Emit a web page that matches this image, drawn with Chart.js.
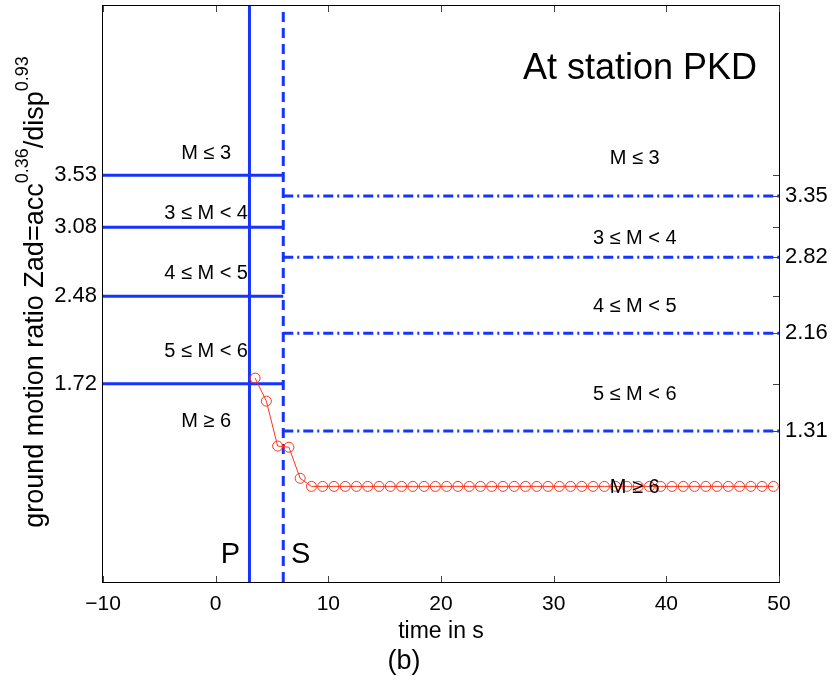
<!DOCTYPE html>
<html lang="en">
<head>
    <meta charset="UTF-8">
    <title>At station PKD</title>
    <script src="https://cdn.jsdelivr.net/npm/chart.js"></script>
    <style>
        html, body { margin: 0; padding: 0; background: #fff; }
        canvas { display: block; }
    </style>
</head>
<body>
    <canvas id="myChart" width="832" height="684"></canvas>
    <script>
        // data
        const times = [3.5, 4.5, 5.5, 6.5, 7.5, 8.5, 9.5, 10.5, 11.5, 12.5, 13.5, 14.5, 15.5, 16.5, 17.5, 18.5,
            19.5, 20.5, 21.5, 22.5, 23.5, 24.5, 25.5, 26.5, 27.5, 28.5, 29.5, 30.5, 31.5, 32.5, 33.5, 34.5,
            35.5, 36.5, 37.5, 38.5, 39.5, 40.5, 41.5, 42.5, 43.5, 44.5, 45.5, 46.5, 47.5, 48.5, 49.5];
        const zad = [1.77, 1.57, 1.18, 1.17, 0.90, 0.83, 0.83, 0.83, 0.83, 0.83, 0.83, 0.83, 0.83, 0.83, 0.83, 0.83,
            0.83, 0.83, 0.83, 0.83, 0.83, 0.83, 0.83, 0.83, 0.83, 0.83, 0.83, 0.83, 0.83, 0.83, 0.83, 0.83,
            0.83, 0.83, 0.83, 0.83, 0.83, 0.83, 0.83, 0.83, 0.83, 0.83, 0.83, 0.83, 0.83, 0.83, 0.83];
        const pThresholds = [3.53, 3.08, 2.48, 1.72];
        const sThresholds = [3.35, 2.82, 2.16, 1.31];
        const pArrival = 3;
        const sArrival = 6;
        const xRange = [-10, 50];
        const yRange = [0, 5];
        const xTicks = [-10, 0, 10, 20, 30, 40, 50];
        const magClasses = ['M \u2264 3', '3 \u2264 M < 4', '4 \u2264 M < 5', '5 \u2264 M < 6', 'M \u2265 6'];

        const FONT = '"Liberation Sans", Arial, Helvetica, sans-serif';
        const BLUE = 'rgb(22, 52, 255)';
        const RED = 'rgb(255, 52, 30)';

        const datasets = [];
        datasets.push({
            data: times.map((t, i) => ({ x: t, y: zad[i] })),
            showLine: true,
            borderColor: RED,
            borderWidth: 1,
            pointRadius: 5,
            pointBorderWidth: 1,
            pointBorderColor: RED,
            pointBackgroundColor: 'rgba(0,0,0,0)',
            order: 0
        });
        pThresholds.forEach(v => datasets.push({
            data: [{ x: xRange[0], y: v }, { x: sArrival, y: v }],
            showLine: true, borderColor: BLUE, borderWidth: 3, pointRadius: 0, order: 1
        }));
        sThresholds.forEach(v => datasets.push({
            data: [{ x: sArrival, y: v }, { x: xRange[1], y: v }],
            showLine: true, borderColor: BLUE, borderWidth: 3, borderDash: [10, 4, 2, 4], pointRadius: 0, order: 1
        }));
        datasets.push({
            data: [{ x: pArrival, y: yRange[0] }, { x: pArrival, y: yRange[1] }],
            showLine: true, borderColor: BLUE, borderWidth: 3, pointRadius: 0, order: 1
        });
        datasets.push({
            data: [{ x: sArrival, y: yRange[0] }, { x: sArrival, y: yRange[1] }],
            showLine: true, borderColor: BLUE, borderWidth: 3, borderDash: [10, 6], pointRadius: 0, order: 1
        });

        // fixed axis sizes so the plot box lands where it is in the figure
        function fixSize(prop, size) {
            return s => {
                s[prop] = size;
                s.paddingTop = 0; s.paddingBottom = 0;
                s.paddingLeft = 0; s.paddingRight = 0;
            };
        }

        const decorations = {
            id: 'decorations',
            afterDraw(chart) {
                const ctx = chart.ctx;
                const a = chart.chartArea;
                const xs = chart.scales.x, ys = chart.scales.y;
                ctx.save();

                // axes box and inward ticks
                ctx.strokeStyle = '#000';
                ctx.lineWidth = 1;
                ctx.strokeRect(a.left - 0.5, a.top - 0.5, a.right - a.left + 1, a.bottom - a.top + 1);
                ctx.strokeStyle = '#444';
                ctx.beginPath();
                xTicks.forEach(t => {
                    const px = Math.round(xs.getPixelForValue(t)) + 0.5;
                    ctx.moveTo(px, a.bottom); ctx.lineTo(px, a.bottom - 6);
                    ctx.moveTo(px, a.top); ctx.lineTo(px, a.top + 6);
                });
                pThresholds.concat(sThresholds).forEach(v => {
                    const py = Math.round(ys.getPixelForValue(v)) + 0.5;
                    ctx.moveTo(a.right, py); ctx.lineTo(a.right - 6, py);
                });
                ctx.stroke();

                ctx.fillStyle = '#000';

                // magnitude class labels
                ctx.font = '20px ' + FONT;
                ctx.textAlign = 'center';
                ctx.textBaseline = 'middle';
                const leftY = [3.72, 3.20, 2.68, 2.00, 1.39];
                const rightY = [3.68, 2.98, 2.39, 1.63, 0.82];
                magClasses.forEach((m, i) => {
                    ctx.fillText(m, xs.getPixelForValue(-0.85), ys.getPixelForValue(leftY[i]));
                    ctx.fillText(m, xs.getPixelForValue(37.2), ys.getPixelForValue(rightY[i]));
                });

                // station title
                ctx.font = '36px ' + FONT;
                ctx.textAlign = 'right';
                ctx.textBaseline = 'alphabetic';
                ctx.fillText('At station PKD', 757, 79);

                // phase markers
                ctx.font = '29px ' + FONT;
                ctx.fillText('P', 240, 563);
                ctx.textAlign = 'left';
                ctx.fillText('S', 291, 563);

                // x title and panel tag
                ctx.textAlign = 'center';
                ctx.font = '23px ' + FONT;
                ctx.fillText('time in s', 441, 638);
                ctx.font = '27px ' + FONT;
                ctx.textBaseline = 'middle';
                ctx.fillText('(b)', 404, 662);

                // y title with superscripts
                const parts = [
                    ['ground motion ratio Zad=acc', 27, 0],
                    ['0.36', 18, 15],
                    ['/disp', 27, 0],
                    ['0.93', 18, 15]
                ];
                let total = 0;
                parts.forEach(p => { ctx.font = p[1] + 'px ' + FONT; total += ctx.measureText(p[0]).width; });
                ctx.translate(43, 292);
                ctx.rotate(-Math.PI / 2);
                ctx.textAlign = 'left';
                ctx.textBaseline = 'alphabetic';
                let x = -total / 2;
                parts.forEach(p => {
                    ctx.font = p[1] + 'px ' + FONT;
                    ctx.fillText(p[0], x, -p[2]);
                    x += ctx.measureText(p[0]).width;
                });
                ctx.restore();
            }
        };

        new Chart(document.getElementById('myChart').getContext('2d'), {
            type: 'scatter',
            data: { datasets: datasets },
            options: {
                responsive: false,
                animation: false,
                devicePixelRatio: 1,
                layout: { padding: { top: 6, left: 0, right: 0, bottom: 0 } },
                plugins: { legend: { display: false }, tooltip: { enabled: false } },
                scales: {
                    x: {
                        type: 'linear', position: 'bottom', min: xRange[0], max: xRange[1],
                        afterBuildTicks: s => { s.ticks = xTicks.map(v => ({ value: v })); },
                        afterFit: fixSize('height', 102),
                        grid: { display: false, drawTicks: false },
                        border: { display: false },
                        ticks: {
                            autoSkip: false, maxRotation: 0, padding: 10, color: '#000',
                            font: { family: FONT, size: 21 },
                            callback: v => String(v).replace('-', '\u2212')
                        }
                    },
                    y: {
                        type: 'linear', position: 'left', min: yRange[0], max: yRange[1],
                        afterBuildTicks: s => { s.ticks = pThresholds.map(v => ({ value: v })); },
                        afterFit: fixSize('width', 103),
                        grid: { display: false, drawTicks: false },
                        border: { display: false },
                        ticks: {
                            autoSkip: false, padding: 6, color: '#000',
                            font: { family: FONT, size: 22 },
                            callback: v => v.toFixed(2)
                        }
                    },
                    y2: {
                        type: 'linear', position: 'right', min: yRange[0], max: yRange[1],
                        afterBuildTicks: s => { s.ticks = sThresholds.map(v => ({ value: v })); },
                        afterFit: fixSize('width', 53),
                        grid: { display: false, drawTicks: false },
                        border: { display: false },
                        ticks: {
                            autoSkip: false, padding: 6, color: '#000',
                            font: { family: FONT, size: 22 },
                            callback: v => v.toFixed(2)
                        }
                    }
                }
            },
            plugins: [decorations]
        });
    </script>
</body>
</html>
